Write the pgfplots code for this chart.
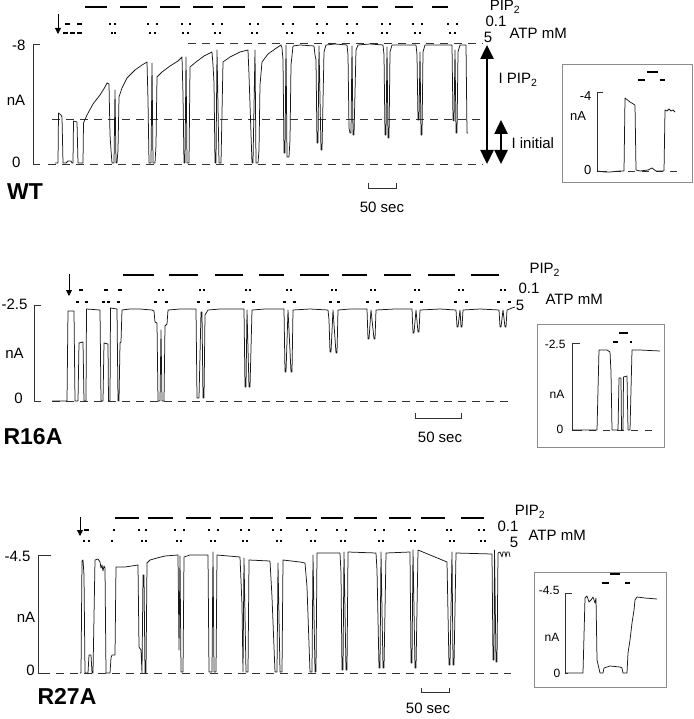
\documentclass[border=0pt]{standalone}
\usepackage{fontspec}
\setmainfont{Liberation Sans}
\usepackage{pgfplots}
\pgfplotsset{compat=1.18}
\usetikzlibrary{arrows.meta}
\begin{document}
\begin{tikzpicture}[font=\fontsize{15}{15}\selectfont]
\begin{axis}[
 scale only axis, width=693pt, height=719pt,
 xmin=0,xmax=693,ymin=0,ymax=719, y dir=reverse,
 axis lines=none, clip=false, enlargelimits=false,
 unbounded coords=jump,
 trace/.style={black!90, line width=0.75pt, line join=round, mark=none},
 zero/.style={black!80, line width=0.8pt, dash pattern=on 8pt off 6pt, mark=none},
 izero/.style={black!80, line width=0.8pt, dash pattern=on 7pt off 7pt, mark=none},
 bar/.style={black, line width=1.8pt, mark=none},
 dot/.style={black, line width=1.3pt, mark=none},
 brk/.style={black!80, line width=0.7pt, mark=none},
 every node/.style={inner sep=0pt},
]
% ================= WT =================
\addplot[bar] coordinates {(85,7)(107,7)(0,nan)(120,7)(147,7)(0,nan)(160,7)(180,7)(0,nan)(193,7)(213,7)(0,nan)(223,7)(245,7)(0,nan)(262,7)(282,7)(0,nan)(293,7)(315,7)(0,nan)(327,7)(348,7)(0,nan)(362,7)(378,7)(0,nan)(395,7)(413,7)(0,nan)(432,7)(448,7)};
\addplot[dot] coordinates {(65,24)(70,24)(0,nan)(77,24)(82,24)(0,nan)
(109,24)(111,24)(0,nan)(114,24)(116,24)(0,nan)(147,24)(149,24)(0,nan)(156,24)(158,24)(0,nan)
(181,24)(183,24)(0,nan)(189,24)(191,24)(0,nan)(212,24)(214,24)(0,nan)(221,24)(223,24)(0,nan)
(249,24)(251,24)(0,nan)(257,24)(259,24)(0,nan)(282,24)(284,24)(0,nan)(292,24)(294,24)(0,nan)
(316,24)(318,24)(0,nan)(326,24)(328,24)(0,nan)(346,24)(348,24)(0,nan)(356,24)(358,24)(0,nan)
(381,24)(383,24)(0,nan)(389,24)(391,24)(0,nan)(412,24)(414,24)(0,nan)(421,24)(423,24)(0,nan)
(447,24)(449,24)(0,nan)(456,24)(458,24)};
\addplot[dot] coordinates {(63,33)(68,33)(0,nan)(70,33)(75,33)(0,nan)(77,33)(82,33)(0,nan)
(111,33)(113,33)(0,nan)(114,33)(116,33)(0,nan)(149,33)(151,33)(0,nan)(154,33)(156,33)(0,nan)
(182,33)(184,33)(0,nan)(187,33)(189,33)(0,nan)(214,33)(216,33)(0,nan)(219,33)(221,33)(0,nan)
(251,33)(253,33)(0,nan)(256,33)(258,33)(0,nan)(286,33)(288,33)(0,nan)(291,33)(293,33)(0,nan)
(317,33)(319,33)(0,nan)(322,33)(324,33)(0,nan)(347,33)(349,33)(0,nan)(352,33)(354,33)(0,nan)
(381,33)(383,33)(0,nan)(386,33)(388,33)(0,nan)(414,33)(416,33)(0,nan)(419,33)(421,33)(0,nan)
(449,33)(451,33)(0,nan)(454,33)(456,33)};
\draw[-{Triangle[length=6pt,width=6pt]}, line width=0.8pt] (axis cs:58,14) -- (axis cs:58,34);
\node[anchor=center] at (axis cs:505,7) {PIP\textsubscript{2}};
\node[anchor=west] at (axis cs:482,21) {0.1};
\node[anchor=center] at (axis cs:488,37) {5};
\node[anchor=west] at (axis cs:506,33) {ATP mM};
% axis bracket
\addplot[brk] coordinates {(40,44)(33,44)(33,164)(40,164)};
\node[anchor=east] at (axis cs:29,45) {-8};
\node[anchor=center] at (axis cs:16,100) {nA};
\node[anchor=east] at (axis cs:24,162) {0};
% dashed references
\addplot[zero] coordinates {(48,164)(483,164)};
\addplot[zero] coordinates {(52,119)(483,119)};
\addplot[zero] coordinates {(188,43)(483,43)};
% trace
\addplot[trace] coordinates {
(55,163)(58,163)(58.5,113)(61,115)(62,117)(63,163)(66,163)(68,161)(71,161)(72,163)(73,163)(73.5,121)(77,122)(78,163)(83,163)
(83.5,123)(87,115)(93,104)(100,95)(105,87)(107,83)(109,84)(110,135)(111,150)(112,163)(114,163)(115,90)(116,163)(117,163)(118,150)
(119,97)(122,88)(127,78)(135,70)(142,65)(147,62)(148,100)(149,163)(151,163)(152,63)(153,163)(155,163)(156,145)
(157,77)(162,72)(170,66)(178,61)(182,57)(183,95)(184,163)(185,163)(186,57)(187,163)(189,163)
(190,67)(196,62)(204,56)(212,52)(213,65)(214,83)(215,163)(216,163)(217,50)(219,163)(221,163)
(223,62)(230,57)(240,52)(248,50)(249,75)(252,163)(253,163)(255,50)(256,163)(258,163)(259,150)
(260,85)(262,62)(268,54)(275,49)(281,45)(282,48)(283,60)(284,153)(285,153)(286,45)(287,157)(289,157)(290,140)
(291,65)(293,46)(300,45)(314,46)(315,55)(316,60)(317,143)(318,143)(319,46)(321,150)(322,150)(324,52)(326,45)
(335,44)(347,45)(348,55)(349,128)(350,133)(351,133)(352,46)(353,135)(354,135)(356,50)(358,45)
(370,44)(383,45)(384,55)(385,135)(386,135)(387,47)(388,138)(389,138)(390,52)(392,45)
(405,45)(416,45)(417,55)(418,120)(419,120)(420,52)(421,135)(422,135)(423,52)(425,45)
(440,45)(452,45)(453,120)(454,121)(455,50)(456,133)(457,133)(458,52)(460,45)(466,45)(467,133)(468,133)};
% big arrows
\draw[{Triangle[length=14pt,width=13pt]}-{Triangle[length=14pt,width=13pt]}, line width=2.5pt] (axis cs:487,45) -- (axis cs:487,164);
\draw[{Triangle[length=14pt,width=13pt]}-{Triangle[length=14pt,width=13pt]}, line width=2.5pt] (axis cs:501,120) -- (axis cs:501,164);
\node[anchor=west] at (axis cs:495,80) {I PIP\textsubscript{2}};
\node[anchor=west] at (axis cs:508,143) {I initial};
% label and scale bar
\node[anchor=center, font=\fontsize{23}{23}\selectfont\bfseries] at (axis cs:25,192) {WT};
\addplot[brk] coordinates {(368,183)(368,188)(396,188)(396,183)};
\node[anchor=center] at (axis cs:382,207) {50 sec};
% inset WT
\draw[black!45, line width=0.9pt] (axis cs:562,64) rectangle (axis cs:692,182);
\addplot[bar] coordinates {(647,72)(658,72)};
\addplot[dot] coordinates {(638,80)(645,80)(0,nan)(660,80)(665,80)};
\addplot[brk] coordinates {(603,92)(597,92)(597,171)(600,171)};
\addplot[izero] coordinates {(600,171)(680,171)};
\node[anchor=east, font=\fontsize{13}{13}\selectfont] at (axis cs:595,96) {-4};
\node[anchor=center, font=\fontsize{13}{13}\selectfont] at (axis cs:578,116) {nA};
\node[anchor=east, font=\fontsize{13}{13}\selectfont] at (axis cs:595,170) {0};
\addplot[trace] coordinates {(597,171)(605,172)(610,172)(620,171)(624,171)(625,98)(630,102)(635,105)(636,170)(640,171)(648,170)(652,168)(656,171)(664,171)(665,110)(667,111)(669,109)(671,111)(673,110)(675,112)};
% ================= R16A =================
\addplot[bar] coordinates {(123,275)(154,275)(0,nan)(169,275)(198,275)(0,nan)(215,275)(243,275)(0,nan)(259,275)(284,275)(0,nan)(300,275)(329,275)(0,nan)(342,275)(367,275)(0,nan)(384,275)(411,275)(0,nan)(428,275)(455,275)(0,nan)(471,275)(499,275)};
\addplot[dot] coordinates {(79,290)(83,290)(0,nan)(104,290)(108,290)(0,nan)(118,290)(122,290)(0,nan)
(158,290)(160,290)(0,nan)(162,290)(164,290)(0,nan)(199,290)(201,290)(0,nan)(203,290)(205,290)(0,nan)
(245,290)(247,290)(0,nan)(249,290)(251,290)(0,nan)(286,290)(288,290)(0,nan)(290,290)(292,290)(0,nan)
(331,290)(333,290)(0,nan)(335,290)(337,290)(0,nan)(370,290)(372,290)(0,nan)(374,290)(376,290)(0,nan)
(414,290)(416,290)(0,nan)(418,290)(420,290)(0,nan)(458,290)(460,290)(0,nan)(462,290)(464,290)(0,nan)
(500,290)(502,290)(0,nan)(504,290)(506,290)};
\addplot[dot] coordinates {(75.5,302)(78.5,302)(0,nan)(84.5,302)(87.5,302)(0,nan)(101.5,302)(104.5,302)(0,nan)(106.5,302)(109.5,302)(0,nan)(116.5,302)(119.5,302)(0,nan)
(154,302)(157,302)(0,nan)(164.5,302)(167.5,302)(0,nan)(196.5,302)(199.5,302)(0,nan)(206.5,302)(209.5,302)(0,nan)
(241.5,302)(244.5,302)(0,nan)(252,302)(255,302)(0,nan)(282.5,302)(285.5,302)(0,nan)(292.5,302)(295.5,302)(0,nan)
(328.5,302)(331.5,302)(0,nan)(336.5,302)(339.5,302)(0,nan)(365.5,302)(368.5,302)(0,nan)(375.5,302)(378.5,302)(0,nan)
(409.5,302)(412.5,302)(0,nan)(419.5,302)(422.5,302)(0,nan)(453.5,302)(456.5,302)(0,nan)(464.5,302)(467.5,302)(0,nan)
(496.5,302)(499.5,302)(0,nan)(507.5,302)(510.5,302)};
\draw[-{Triangle[length=6pt,width=6pt]}, line width=0.8pt] (axis cs:69,274) -- (axis cs:69,296);
\node[anchor=west] at (axis cs:526,270) {PIP\textsubscript{2}};
\node[anchor=west] at (axis cs:515,288) {0.1};
\node[anchor=center] at (axis cs:520,305) {5};
\node[anchor=west] at (axis cs:542,299) {ATP mM};
\addplot[brk] coordinates {(41,305)(34,305)(34,401)(41,401)};
\node[anchor=east] at (axis cs:31,304) {-2.5};
\node[anchor=center] at (axis cs:14.5,353) {nA};
\node[anchor=center] at (axis cs:18.5,398) {0};
\addplot[zero] coordinates {(52,401)(510,401)};
\addplot[trace] coordinates {
(52,401)(67,401)(68,311)(74,311)(75,401)(78,401)(79,343)(83,342)(84,401)(86,401)(86.5,309)(100,310)(101,401)(103,401)
(104,343)(108,344)(108.5,401)(110,401)(110.5,308)(117,309)(118,401)(119,401)(120,343)(121,342)(122,310)(130,309)(140,309)
(152,310)(154,311)(155,322)(157,323)(158,401)(160,401)(161,330)(162,401)(164,401)(165,326)(167,324)(168,310)(180,309)
(196,309)(197,398)(199,398)(201,312)(202,312)(203,398)(204,398)(205,315)(208,310)(220,309)
(244,309)(245,387)(246,387)(247,310)(249,387)(250,387)(252,310)(265,309)
(284,309)(285,372)(286,372)(288,310)(291,372)(292,372)(293,310)(310,309)
(328,310)(329,320)(330,352)(331,352)(333,310)(336,353)(337,353)(338,310)(350,309)
(367,309)(368,339)(369,339)(371,310)(374,339)(375,339)(376,310)(395,309)
(412,309)(413,333)(414,333)(416,310)(418,332)(419,332)(420,310)(440,309)
(456,310)(457,327)(458,327)(460,310)(461,327)(462,327)(463,310)(480,309)
(499,310)(500,327)(501,327)(503,310)(505,327)(506,327)(507,310)(512,308)(515,307)};
\node[anchor=center, font=\fontsize{23}{23}\selectfont\bfseries] at (axis cs:33,437) {R16A};
\addplot[brk] coordinates {(415,413)(415,418)(461,418)(461,413)};
\node[anchor=center] at (axis cs:440,437) {50 sec};
% inset R16A
\draw[black!45, line width=0.9pt] (axis cs:537,324) rectangle (axis cs:664,447);
\addplot[bar] coordinates {(619,333)(628,333)};
\addplot[dot] coordinates {(613,342)(618,342)(0,nan)(630,342)(632,342)};
\addplot[brk] coordinates {(580,343)(572,343)(572,430)(575,430)};
\addplot[izero] coordinates {(575,430)(658,430)};
\node[anchor=east, font=\fontsize{12}{12}\selectfont] at (axis cs:569,344) {-2.5};
\node[anchor=center, font=\fontsize{12}{12}\selectfont] at (axis cs:557,394) {nA};
\node[anchor=center, font=\fontsize{12}{12}\selectfont] at (axis cs:560,429) {0};
\addplot[trace] coordinates {(572,430)(597,430)(599,350)(607,350)(610,352)(611,372)(612,430)(615,430)(618,430)(619,378)(621,378)(621.5,430)(623,430)(623.5,377)(627,376)(628,430)(630,430)(632,350)(640,350)(660,351)};
% ================= R27A =================
\addplot[bar] coordinates {(115,518)(139,518)(0,nan)(148,518)(173,518)(0,nan)(186,518)(211,518)(0,nan)(220,518)(243,518)(0,nan)(250,518)(273,518)(0,nan)(286,518)(311,518)(0,nan)(321,518)(343,518)(0,nan)(354,518)(377,518)(0,nan)(389,518)(411,518)(0,nan)(421,518)(445,518)(0,nan)(461,518)(484,518)};
\addplot[dot] coordinates {(84,530)(89,530)(0,nan)(113,530)(115,530)(0,nan)
(138,530)(140,530)(0,nan)(145,530)(147,530)(0,nan)(174,530)(176,530)(0,nan)(183,530)(185,530)(0,nan)
(208,530)(210,530)(0,nan)(217,530)(219,530)(0,nan)(240,530)(242,530)(0,nan)(248,530)(250,530)(0,nan)
(272,530)(274,530)(0,nan)(280,530)(282,530)(0,nan)(306,530)(308,530)(0,nan)(315,530)(317,530)(0,nan)
(336,530)(338,530)(0,nan)(345,530)(347,530)(0,nan)(374,530)(376,530)(0,nan)(383,530)(385,530)(0,nan)
(408,530)(410,530)(0,nan)(414,530)(416,530)(0,nan)(446,530)(448,530)(0,nan)(450,530)(452,530)(0,nan)
(478,530)(480,530)(0,nan)(483,530)(485,530)};
\addplot[dot] coordinates {(83,541)(85,541)(0,nan)(88,541)(90,541)(0,nan)(111,541)(113,541)(0,nan)
(141,541)(143,541)(0,nan)(145,541)(147,541)(0,nan)(176,541)(178,541)(0,nan)(180,541)(182,541)(0,nan)
(210,541)(212,541)(0,nan)(214,541)(216,541)(0,nan)(242,541)(244,541)(0,nan)(246,541)(248,541)(0,nan)
(276,541)(278,541)(0,nan)(280,541)(282,541)(0,nan)(310,541)(312,541)(0,nan)(314,541)(316,541)(0,nan)
(340,541)(342,541)(0,nan)(344,541)(346,541)(0,nan)(378,541)(380,541)(0,nan)(382,541)(384,541)(0,nan)
(410,541)(412,541)(0,nan)(414,541)(416,541)(0,nan)(449,541)(451,541)(0,nan)(453,541)(455,541)(0,nan)
(480,541)(482,541)(0,nan)(484,541)(486,541)};
\draw[-{Triangle[length=6pt,width=6pt]}, line width=0.8pt] (axis cs:80,517) -- (axis cs:80,536);
\node[anchor=center] at (axis cs:530,512) {PIP\textsubscript{2}};
\node[anchor=east] at (axis cs:522,526) {0.1};
\node[anchor=center] at (axis cs:514,542) {5};
\node[anchor=west] at (axis cs:525,535) {ATP mM};
\addplot[brk] coordinates {(51,555)(38.6,555)(38.6,673)(42,673)};
\node[anchor=east] at (axis cs:34,556) {-4.5};
\node[anchor=center] at (axis cs:26,617) {nA};
\node[anchor=center] at (axis cs:30.5,670) {0};
\addplot[zero] coordinates {(42,673)(511,673)};
\addplot[trace] coordinates {
(80,673)(81,673)(82,561)(83,560)(84,575)(85,673)(88,673)(89,655)(91,655)(92,673)(93,673)(95,560)(98,559)(100,562)(101,568)(102,565)(103,571)(104,566)(105,568)(106,673)
(108,673)(110,673)(111,658)(112,655)(115,655)(116,567)(125,567)(138,565)(139,647)(141,650)(142,673)(143,575)(144,575)(145,673)(146,673)
(147,563)(150,560)(157,558)(165,556)(178,555)(179,650)(180,556)(181,672)(183,672)(184,557)(190,555)(208,555)(209,672)(212,672)(213,552)(214,672)(216,672)
(217,555)(240,557)(242,605)(243,672)(244,558)(246,672)(248,672)(249,560)(270,561)(272,597)(275,672)(277,672)(278,563)(280,672)(282,672)
(283,560)(300,562)(305,563)(307,587)(310,672)(312,672)(313,555)(315,672)(316,672)(317,553)(340,553)(341,573)(342,670)(343,670)(344,552)(346,670)(347,670)
(348,552)(376,553)(377,570)(379,668)(380,668)(381,552)(383,668)(384,668)(386,553)(410,552)(411,663)(412,663)(413,550)(415,668)(416,668)
(418,550)(447,562)(449,665)(450,665)(452,552)(453,665)(454,665)(456,553)(492,554)(493,660)(494,660)(494.5,550)(496,662)(497,662)
(498,553)(500,552)(502,557)(503,552)(505,552)(506,557)(507,552)(509,552)(510,557)};
\node[anchor=center, font=\fontsize{23}{23}\selectfont\bfseries] at (axis cs:67,696) {R27A};
\addplot[brk] coordinates {(421,688)(421,692.7)(449,692.7)(449,688)};
\node[anchor=center] at (axis cs:428,708) {50 sec};
% inset R27A
\draw[black!45, line width=0.9pt] (axis cs:534,572) rectangle (axis cs:666,687);
\addplot[bar] coordinates {(610,574)(620,574)};
\addplot[dot] coordinates {(602,583)(609,583)(0,nan)(625,583)(630,583)};
\addplot[brk] coordinates {(572,593)(565,593)(565,673)(568,673)};
\node[anchor=east, font=\fontsize{12}{12}\selectfont] at (axis cs:563,590) {-4.5};
\node[anchor=center, font=\fontsize{12}{12}\selectfont] at (axis cs:552,637) {nA};
\node[anchor=center, font=\fontsize{12}{12}\selectfont] at (axis cs:557,673) {0};
\addplot[trace] coordinates {(565,673)(583,673)(585,598)(587,596)(589,602)(591,600)(593,597)(594,600)(595,603)(596,598)(597,660)(600,673)(603,673)(604,668)(610,666)(620,667)(622,668)(623,673)(627,673)(628,653)(630,640)(632,623)(634,610)(635,600)(637,597)(645,598)(657,599)};
\end{axis}
\pgfresetboundingbox
\path (current axis.south west) rectangle (current axis.north east);
\end{tikzpicture}
\end{document}
